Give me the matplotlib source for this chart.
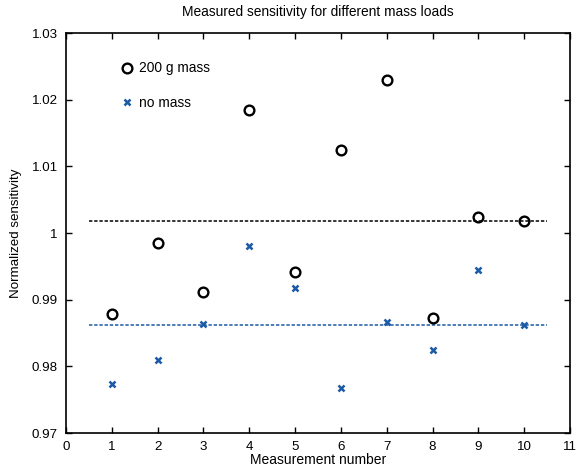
import matplotlib
matplotlib.use("Agg")
import matplotlib.pyplot as plt

plt.rcParams['font.family'] = ['Liberation Sans', 'DejaVu Sans']

meas = [1, 2, 3, 4, 5, 6, 7, 8, 9, 10]
mass200 = [0.9878, 0.99845, 0.9912, 1.01844, 0.9942, 1.0125, 1.0230, 0.9873, 1.00245, 1.0018]
nomass = [0.9773, 0.9810, 0.9863, 0.9981, 0.9918, 0.9768, 0.9867, 0.9824, 0.9945, 0.9862]
mean200 = 1.0018
mean0 = 0.98615
xticks = list(range(0, 12))
yticks = [0.97, 0.98, 0.99, 1.0, 1.01, 1.02, 1.03]
yticklabels = ['0.97', '0.98', '0.99', '1', '1.01', '1.02', '1.03']

blue = '#1a5aa6'
fs = 9.6

fig = plt.figure(figsize=(5.82, 4.70), dpi=100)
ax = fig.add_axes([66/582, 37/470, 504/582, 400/470])

ax.plot([0.5, 10.5], [mean200, mean200], color='black', ls=(0, (2.2, 1.2)), lw=1.1)
ax.plot([0.5, 10.5], [mean0, mean0], color=blue, ls=(0, (2.2, 1.2)), lw=1.1)
ax.plot(meas, mass200, 'o', mfc='none', mec='black', mew=1.7, ms=7, label='200 g mass')
ax.plot(meas, nomass, 'x', color=blue, mew=1.8, ms=3.8, label='no mass')

ax.set_xlim(0, 11)
ax.set_ylim(0.97, 1.03)
ax.set_xticks(xticks)
ax.set_yticks(yticks)
ax.set_yticklabels(yticklabels)
ax.tick_params(direction='in', top=True, right=True, length=4, width=1, labelsize=fs)
ax.tick_params(axis='x', pad=5.5)
ax.tick_params(axis='y', pad=6)
for s in ax.spines.values():
    s.set_linewidth(1.2)

ax.set_xlabel('Measurement number', fontsize=10, labelpad=0.5)
ax.set_ylabel('Normalized sensitivity', fontsize=fs, labelpad=7)
ax.set_title('Measured sensitivity for different mass loads', fontsize=9.9, pad=12)

ax.legend(loc='upper left', bbox_to_anchor=(0.085, 0.96), frameon=False, fontsize=9.9,
          handlelength=0.8, handletextpad=0.5, labelspacing=1.5, numpoints=1)

fig.savefig('out.png', dpi=100)
